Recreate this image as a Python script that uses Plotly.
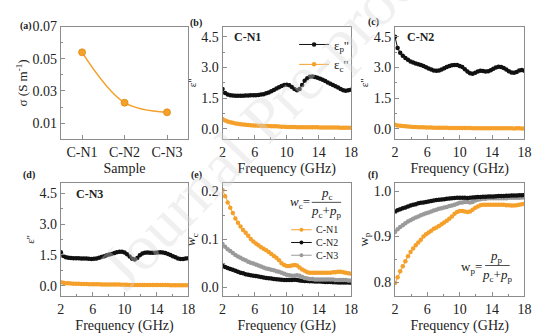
import plotly.graph_objects as go
from plotly.subplots import make_subplots

# ---------------- data ----------------
samples = ["C-N1", "C-N2", "C-N3"]
sigma = [0.054, 0.0227, 0.0167]

freq = [2.00, 2.32, 2.64, 2.96, 3.28, 3.60, 3.92, 4.24, 4.56, 4.88,
        5.20, 5.52, 5.84, 6.16, 6.48, 6.80, 7.12, 7.44, 7.76, 8.08,
        8.40, 8.72, 9.04, 9.36, 9.68, 10.00, 10.32, 10.64, 10.96, 11.28,
        11.60, 11.92, 12.24, 12.56, 12.88, 13.20, 13.52, 13.84, 14.16, 14.48,
        14.80, 15.12, 15.44, 15.76, 16.08, 16.40, 16.72, 17.04, 17.36, 17.68, 18.00]

cn1_ep = [1.95, 1.75, 1.68, 1.65, 1.63, 1.62, 1.62, 1.62, 1.62, 1.63,
          1.63, 1.64, 1.64, 1.65, 1.66, 1.68, 1.70, 1.74, 1.78, 1.84,
          1.90, 1.97, 2.04, 2.10, 2.15, 2.16, 2.13, 2.05, 1.95, 1.89,
          1.95, 2.15, 2.35, 2.48, 2.55, 2.56, 2.54, 2.50, 2.45, 2.40,
          2.34, 2.27, 2.21, 2.15, 2.08, 2.02, 1.95, 1.89, 1.86, 1.89, 1.92]
cn1_ec = [0.49, 0.41, 0.36, 0.33, 0.30, 0.27, 0.25, 0.23, 0.22, 0.21,
          0.195, 0.18, 0.17, 0.165, 0.158, 0.152, 0.148, 0.145, 0.14, 0.136,
          0.132, 0.128, 0.121, 0.11, 0.104, 0.099, 0.098, 0.097, 0.094, 0.089,
          0.083, 0.083, 0.083, 0.079, 0.079, 0.079, 0.078, 0.077, 0.076, 0.074,
          0.072, 0.070, 0.068, 0.069, 0.067, 0.067, 0.064, 0.060, 0.058, 0.056, 0.055]

cn2_ep = [4.50, 3.95, 3.72, 3.58, 3.47, 3.38, 3.30, 3.24, 3.20, 3.16,
          3.12, 3.07, 3.01, 2.95, 2.90, 2.86, 2.84, 2.85, 2.90, 2.97,
          3.03, 3.08, 3.11, 3.12, 3.12, 3.08, 3.02, 2.92, 2.80, 2.72,
          2.70, 2.74, 2.80, 2.84, 2.83, 2.81, 2.82, 2.87, 2.94, 3.00,
          3.04, 3.03, 2.98, 2.90, 2.82, 2.76, 2.74, 2.78, 2.86, 2.88, 2.84]
cn2_ec = [0.21, 0.17, 0.155, 0.14, 0.13, 0.12, 0.11, 0.10, 0.095, 0.088,
          0.083, 0.079, 0.074, 0.069, 0.065, 0.061, 0.058, 0.055, 0.054, 0.054,
          0.053, 0.052, 0.051, 0.049, 0.048, 0.047, 0.046, 0.044, 0.043, 0.041,
          0.038, 0.037, 0.036, 0.037, 0.036, 0.035, 0.034, 0.034, 0.035, 0.035,
          0.033, 0.033, 0.033, 0.031, 0.030, 0.028, 0.027, 0.028, 0.028, 0.027, 0.026]

cn3_ep = [1.63, 1.45, 1.39, 1.36, 1.35, 1.34, 1.34, 1.34, 1.33, 1.33,
          1.32, 1.31, 1.30, 1.31, 1.33, 1.36, 1.40, 1.44, 1.48, 1.52,
          1.55, 1.59, 1.63, 1.66, 1.66, 1.62, 1.53, 1.42, 1.31, 1.27,
          1.35, 1.48, 1.57, 1.61, 1.62, 1.61, 1.60, 1.61, 1.62, 1.63,
          1.62, 1.59, 1.55, 1.50, 1.44, 1.38, 1.33, 1.30, 1.30, 1.33, 1.34]
cn3_ec = [0.16, 0.135, 0.12, 0.11, 0.103, 0.096, 0.092, 0.087, 0.082, 0.079,
          0.074, 0.070, 0.067, 0.065, 0.062, 0.061, 0.060, 0.058, 0.058, 0.057,
          0.056, 0.055, 0.054, 0.051, 0.047, 0.043, 0.039, 0.035, 0.032, 0.032,
          0.033, 0.032, 0.030, 0.029, 0.028, 0.027, 0.026, 0.026, 0.026, 0.026,
          0.026, 0.025, 0.025, 0.024, 0.022, 0.021, 0.020, 0.020, 0.020, 0.019, 0.019]

cn1_wc = [0.202, 0.189, 0.176, 0.165, 0.154, 0.143, 0.134, 0.126, 0.119, 0.113,
          0.107, 0.100, 0.095, 0.091, 0.087, 0.083, 0.080, 0.077, 0.073, 0.069,
          0.065, 0.061, 0.056, 0.050, 0.046, 0.044, 0.044, 0.045, 0.046, 0.045,
          0.041, 0.037, 0.034, 0.031, 0.030, 0.030, 0.030, 0.030, 0.030, 0.030,
          0.030, 0.030, 0.030, 0.031, 0.031, 0.032, 0.032, 0.031, 0.030, 0.029, 0.028]
cn2_wc = [0.045, 0.042, 0.040, 0.038, 0.036, 0.034, 0.032, 0.030, 0.029, 0.027,
          0.026, 0.025, 0.024, 0.023, 0.022, 0.021, 0.020, 0.019, 0.0185, 0.018,
          0.017, 0.0165, 0.016, 0.0155, 0.015, 0.015, 0.015, 0.015, 0.0155, 0.015,
          0.014, 0.0135, 0.013, 0.013, 0.0125, 0.0125, 0.012, 0.012, 0.012, 0.0115,
          0.011, 0.011, 0.011, 0.0105, 0.0105, 0.010, 0.010, 0.010, 0.0095, 0.0095, 0.009]
cn3_wc = [0.090, 0.084, 0.079, 0.075, 0.071, 0.067, 0.064, 0.061, 0.058, 0.056,
          0.053, 0.051, 0.049, 0.047, 0.045, 0.043, 0.041, 0.039, 0.038, 0.036,
          0.035, 0.033, 0.032, 0.030, 0.028, 0.026, 0.025, 0.024, 0.024, 0.025,
          0.024, 0.021, 0.019, 0.018, 0.017, 0.017, 0.016, 0.016, 0.016, 0.016,
          0.016, 0.016, 0.016, 0.016, 0.015, 0.015, 0.015, 0.015, 0.015, 0.014, 0.014]

cn1_wp = [0.798, 0.811, 0.824, 0.835, 0.846, 0.857, 0.866, 0.874, 0.881, 0.887,
          0.893, 0.900, 0.905, 0.909, 0.913, 0.917, 0.920, 0.923, 0.927, 0.931,
          0.935, 0.939, 0.944, 0.950, 0.954, 0.956, 0.956, 0.955, 0.954, 0.955,
          0.959, 0.963, 0.966, 0.969, 0.970, 0.970, 0.970, 0.970, 0.970, 0.970,
          0.970, 0.970, 0.970, 0.969, 0.969, 0.968, 0.968, 0.969, 0.970, 0.971, 0.972]
cn2_wp = [0.955, 0.958, 0.960, 0.962, 0.964, 0.966, 0.968, 0.970, 0.971, 0.973,
          0.974, 0.975, 0.976, 0.977, 0.978, 0.979, 0.980, 0.981, 0.9815, 0.982,
          0.983, 0.9835, 0.984, 0.9845, 0.985, 0.985, 0.985, 0.985, 0.9845, 0.985,
          0.986, 0.9865, 0.987, 0.987, 0.9875, 0.9875, 0.988, 0.988, 0.988, 0.9885,
          0.989, 0.989, 0.989, 0.9895, 0.9895, 0.990, 0.990, 0.990, 0.9905, 0.9905, 0.991]
cn3_wp = [0.910, 0.916, 0.921, 0.925, 0.929, 0.933, 0.936, 0.939, 0.942, 0.944,
          0.947, 0.949, 0.951, 0.953, 0.955, 0.957, 0.959, 0.961, 0.962, 0.964,
          0.965, 0.967, 0.968, 0.970, 0.972, 0.974, 0.975, 0.976, 0.976, 0.975,
          0.976, 0.979, 0.981, 0.982, 0.983, 0.983, 0.984, 0.984, 0.984, 0.984,
          0.984, 0.984, 0.984, 0.984, 0.985, 0.985, 0.985, 0.985, 0.985, 0.986, 0.986]

freq_ticks = [2, 6, 10, 14, 18]
eps_ticks = [0.0, 1.5, 3.0, 4.5]
wc_names = ["C-N1", "C-N2", "C-N3"]

# ---------------- style ----------------
ORANGE = "#f5a02a"
BLACK = "#111111"
GRAY = "#9a9a9a"
AXC = "#8c8c8c"
FONT = "Liberation Serif, Tinos, Times New Roman, serif"
TXT = "#222222"

fig = make_subplots(rows=2, cols=3)

def add_series(x, y, color, name, row, col, show=False):
    fig.add_trace(go.Scatter(
        x=x, y=y, mode="lines+markers", name=name,
        line=dict(color=color, width=1),
        marker=dict(color=color, size=4.5, symbol="circle"),
        showlegend=show), row=row, col=col)

# (a)
fig.add_trace(go.Scatter(
    x=list(range(len(samples))), y=sigma, mode="lines+markers",
    line=dict(color=ORANGE, width=1.5, shape="spline"),
    marker=dict(color=ORANGE, size=7, line=dict(color="#e08a10", width=0.8)),
    showlegend=False), row=1, col=1)

# (b) (c) (d)
add_series(freq, cn1_ep, BLACK, "ε<sub>p</sub>''", 1, 2, True)
add_series(freq, cn1_ec, ORANGE, "ε<sub>c</sub>''", 1, 2, True)
add_series(freq, cn2_ep, BLACK, "", 1, 3)
add_series(freq, cn2_ec, ORANGE, "", 1, 3)
add_series(freq, cn3_ep, BLACK, "", 2, 1)
add_series(freq, cn3_ec, ORANGE, "", 2, 1)

# (e)
wc_colors = [ORANGE, BLACK, GRAY]
for nm, ser, colr in zip(wc_names, [cn1_wc, cn2_wc, cn3_wc], wc_colors):
    add_series(freq, ser, colr, nm, 2, 2)
# (f)
add_series(freq, cn3_wp, GRAY, "", 2, 3)
add_series(freq, cn1_wp, ORANGE, "", 2, 3)
add_series(freq, cn2_wp, BLACK, "", 2, 3)

W, H = 550, 336
cols_px = [(58, 188), (223, 354), (399, 531)]
rows_px = [(20, 135), (180, 295)]

def xd(c):
    return [cols_px[c][0] / W, cols_px[c][1] / W]

def yd(r):
    return [1 - rows_px[r][1] / H, 1 - rows_px[r][0] / H]

common = dict(showline=True, mirror=True, linecolor=AXC, linewidth=1,
              ticks="inside", ticklen=4, tickcolor=AXC, showgrid=False,
              zeroline=False, tickfont=dict(family=FONT, size=14, color=TXT))

def ttl(t, size=14):
    return dict(text=t, font=dict(family=FONT, size=size, color=TXT))

idx = 0
for r in range(2):
    for c in range(3):
        idx += 1
        sx = "" if idx == 1 else str(idx)
        fig.update_layout({"xaxis" + sx: dict(domain=xd(c), **common),
                           "yaxis" + sx: dict(domain=yd(r), **common)})

freq_ax = dict(range=[2, 18], tickvals=freq_ticks,
               minor=dict(ticks="inside", ticklen=2, tickcolor=AXC, tick0=0, dtick=2),
               title=dict(ttl("Frequency (GHz)"), standoff=4))
eps_ax = dict(range=[-0.5, 5.0], tickvals=eps_ticks, ticktext=["%.1f" % v for v in eps_ticks],
              minor=dict(ticks="inside", ticklen=2, tickcolor=AXC, tick0=0, dtick=0.75),
              title=dict(ttl("ε''", 11), standoff=2))

fig.update_layout(
    xaxis=dict(range=[-0.5, 2.5], tickvals=list(range(len(samples))), ticktext=samples,
               title=dict(ttl("Sample"), standoff=4)),
    yaxis=dict(range=[0, 0.07], tickvals=[0.01, 0.03, 0.05, 0.07],
               ticktext=["0.01", "0.03", "0.05", "0.07"],
               minor=dict(ticks="inside", ticklen=2, tickcolor=AXC, tick0=0, dtick=0.01),
               title=dict(ttl("σ (S m<sup>-1</sup>)", 13), standoff=1)),
    xaxis2=freq_ax, yaxis2=eps_ax,
    xaxis3=freq_ax, yaxis3=eps_ax,
    xaxis4=freq_ax, yaxis4=eps_ax,
    xaxis5=freq_ax,
    yaxis5=dict(range=[-0.018, 0.216], tickvals=[0, 0.1, 0.2], ticktext=["0.0", "0.1", "0.2"],
                minor=dict(ticks="inside", ticklen=2, tickcolor=AXC, tick0=0, dtick=0.05),
                title=dict(ttl("<i>w</i><sub>c</sub>", 13), standoff=2)),
    xaxis6=freq_ax,
    yaxis6=dict(range=[0.77, 1.017], tickvals=[0.8, 0.9, 1.0], ticktext=["0.8", "0.9", "1.0"],
                minor=dict(ticks="inside", ticklen=2, tickcolor=AXC, tick0=0, dtick=0.05),
                title=dict(ttl("w<sub>p</sub>", 13), standoff=2)),
)

fig.update_layout(
    width=W, height=H, margin=dict(l=0, r=0, t=0, b=0),
    paper_bgcolor="white", plot_bgcolor="white",
    font=dict(family=FONT, size=12, color=TXT),
    legend=dict(x=296 / W, y=1 - 23 / H, xanchor="left", yanchor="top",
                bgcolor="rgba(0,0,0,0)", font=dict(family=FONT, size=13, color=TXT),
                itemwidth=30, tracegroupgap=0),
)

def ann(text, px, py, size=12, bold=False, xanchor="center", color=TXT, **kw):
    if bold:
        text = "<b>" + text + "</b>"
    fig.add_annotation(text=text, x=px / W, y=1 - py / H, xref="paper", yref="paper",
                       showarrow=False, xanchor=xanchor, yanchor="middle",
                       font=dict(family=FONT, size=size, color=color), **kw)

def hline(x0, x1, py, color, width=1):
    fig.add_shape(type="line", xref="paper", yref="paper",
                  x0=x0 / W, x1=x1 / W, y0=1 - py / H, y1=1 - py / H,
                  line=dict(color=color, width=width))

# panel labels
for lab, px, py in [("(a)", 22, 19), ("(b)", 196, 16), ("(c)", 377, 15),
                    ("(d)", 26, 172), ("(e)", 196, 172), ("(f)", 377, 172)]:
    ann(lab, px, py, size=10, bold=True)

# sample labels
ann("C-N1", 233, 31, size=12, bold=True, xanchor="left")
ann("C-N2", 409, 31, size=12, bold=True, xanchor="left")
ann("C-N3", 71, 191, size=12, bold=True, xanchor="left")

# formula (e)
ann("<i>w</i><sub>c</sub>=", 314, 200, size=13, xanchor="right")
ann("<i>p</i><sub>c</sub>", 330, 190, size=13)
ann("<i>p</i><sub>c</sub>+<i>p</i><sub>p</sub>", 329, 209, size=13)
hline(314, 344, 199.5, TXT, 0.8)
# compact legend of (e)
LEG_FS = 10
step = 1.3 * LEG_FS
y_first = 227.5
for i, colr in enumerate(wc_colors):
    yy = y_first + step * i
    hline(293, 314, yy, colr, 1)
    fig.add_shape(type="circle", xref="paper", yref="paper",
                  x0=301.5 / W, x1=305.5 / W, y0=1 - (yy + 2) / H, y1=1 - (yy - 2) / H,
                  fillcolor=colr, line=dict(color=colr, width=0))
ann("<br>".join(wc_names), 316, y_first + step, size=LEG_FS, xanchor="left", align="left")

# formula (f)
ann("w<sub>p</sub>=", 490, 266, size=13, xanchor="right")
ann("<i>p</i><sub>p</sub>", 503, 255, size=13)
ann("<i>p</i><sub>c</sub>+<i>p</i><sub>p</sub>", 503, 274, size=13)
hline(491, 516, 264, TXT, 0.8)

# watermark
ann("Journal Pre-proof", 268, 112, size=64, color="rgba(215,215,215,0.38)", textangle=-46)

fig.write_html("out.html")
